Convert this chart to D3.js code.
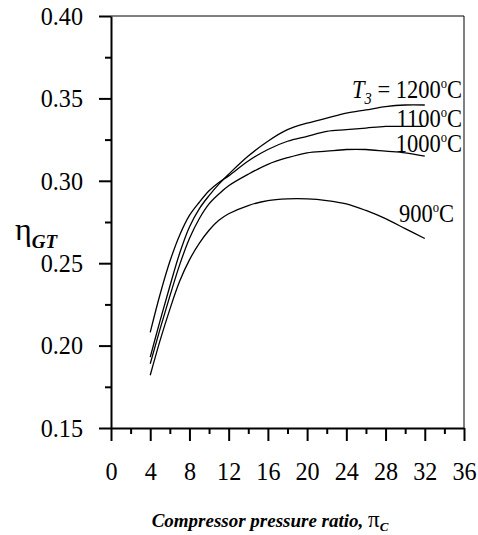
<!DOCTYPE html>
<html>
<head>
<meta charset="utf-8">
<script src="https://cdn.jsdelivr.net/npm/d3@7"></script>
<style>
  body { margin: 0; background: #fff; }
  svg { display: block; }
  text { font-family: "Times New Roman", "Liberation Serif", serif; }
</style>
</head>
<body>
<svg id="chart" width="478" height="535"></svg>
<script>
// values
var pressureRatio = [4, 5, 6, 7, 8, 9, 10, 11, 12, 14, 16, 18, 20, 22, 24, 26, 28, 30, 32];
var eta1200 = [0.193, 0.215, 0.236, 0.256, 0.272, 0.283, 0.291, 0.298, 0.304, 0.315, 0.324, 0.331, 0.335, 0.338, 0.341, 0.343, 0.345, 0.346, 0.346];
var eta1100 = [0.208, 0.231, 0.251, 0.267, 0.279, 0.287, 0.294, 0.299, 0.303, 0.312, 0.319, 0.324, 0.327, 0.330, 0.331, 0.332, 0.333, 0.333, 0.333];
var eta1000 = [0.189, 0.210, 0.230, 0.249, 0.265, 0.277, 0.286, 0.292, 0.297, 0.304, 0.310, 0.314, 0.317, 0.318, 0.319, 0.319, 0.318, 0.317, 0.315];
var eta900  = [0.182, 0.203, 0.222, 0.239, 0.252, 0.262, 0.270, 0.276, 0.280, 0.285, 0.288, 0.289, 0.289, 0.288, 0.286, 0.282, 0.277, 0.271, 0.265];
var seriesNames = ["1200", "1100", "1000", "900"];
var xTicks = [0, 4, 8, 12, 16, 20, 24, 28, 32, 36];
var yTicks = [0.15, 0.20, 0.25, 0.30, 0.35, 0.40];

var svg = d3.select("#chart"),
    margin = {top: 16, right: 14, bottom: 107, left: 111},
    width = +svg.attr("width") - margin.left - margin.right,
    height = +svg.attr("height") - margin.top - margin.bottom,
    group = svg.append("g").attr("transform", "translate(" + margin.left + "," + margin.top + ")");

var xscale = d3.scaleLinear().domain([0, 36]).range([0, width]);
var yscale = d3.scaleLinear().domain([0.15, 0.40]).range([height, 0]);
var squeeze = 0.93;

// thin frame on top and right
group.append("line").attr("x1", 0).attr("x2", width).attr("y1", 0).attr("y2", 0)
    .attr("stroke", "#000").attr("stroke-width", 1);
group.append("line").attr("x1", width).attr("x2", width).attr("y1", 0).attr("y2", height)
    .attr("stroke", "#000").attr("stroke-width", 1);

// minor ticks
group.append("g")
    .attr("transform", "translate(0," + height + ")")
    .call(d3.axisBottom(xscale).tickValues(d3.range(2, 36, 4)).tickSize(6).tickFormat(""))
    .call(function(g) { g.select(".domain").remove(); })
    .selectAll("line").attr("stroke-width", 2);
group.append("g")
    .call(d3.axisLeft(yscale).tickValues([0.175, 0.225, 0.275, 0.325, 0.375]).tickSize(6).tickFormat(""))
    .call(function(g) { g.select(".domain").remove(); })
    .selectAll("line").attr("stroke-width", 2);

// main axes
var xAxis = group.append("g")
    .attr("transform", "translate(0," + height + ")")
    .call(d3.axisBottom(xscale).tickValues(xTicks).tickSize(13).tickSizeOuter(0).tickPadding(21).tickFormat(d3.format("d")));
xAxis.select(".domain").attr("stroke-width", 2);
xAxis.selectAll(".tick line").attr("stroke-width", 2);
xAxis.selectAll("text")
    .attr("font-size", 26).attr("fill", "#000")
    .attr("transform", "scale(" + squeeze + ",1)");

var yAxis = group.append("g")
    .call(d3.axisLeft(yscale).tickValues(yTicks).tickSize(12).tickSizeOuter(0).tickFormat(d3.format(".2f")));
yAxis.select(".domain").attr("stroke-width", 2);
yAxis.selectAll(".tick line").attr("stroke-width", 2);
yAxis.selectAll("text")
    .attr("font-size", 26).attr("fill", "#000")
    .attr("x", -28 / squeeze)
    .attr("transform", "scale(" + squeeze + ",1)");

// curves
var allSeries = [eta1200, eta1100, eta1000, eta900];
var line = d3.line()
    .x(function(d, i) { return xscale(pressureRatio[i]); })
    .y(function(d) { return yscale(d); })
    .curve(d3.curveCatmullRom.alpha(0.5));

group.selectAll(".curve")
    .data(allSeries)
    .enter().append("path")
    .attr("class", "curve")
    .attr("d", line)
    .attr("fill", "none")
    .attr("stroke", "#000")
    .attr("stroke-width", 1.3);

// curve labels
var labelPos = [[462, 98], [462, 127], [462, 152], [454, 222]];
seriesNames.forEach(function(name, i) {
    var t = svg.append("text")
        .attr("transform", "translate(" + labelPos[i][0] + "," + labelPos[i][1] + ") scale(0.9,1)")
        .attr("text-anchor", "end")
        .attr("font-size", 25);
    if (i === 0) {
        t.append("tspan").attr("font-style", "italic").text("T");
        t.append("tspan").attr("font-style", "italic").attr("font-size", 16).attr("dy", 6).text("3");
        t.append("tspan").attr("dy", -6).text(" = " + name);
    } else {
        t.append("tspan").text(name);
    }
    t.append("tspan").attr("font-size", 14).attr("dy", -10).text("o");
    t.append("tspan").attr("dy", 10).text("C");
});

// axis titles
var yt = svg.append("text").attr("x", 15).attr("y", 240).attr("font-size", 32);
yt.append("tspan").text("η");
yt.append("tspan").attr("font-size", 19).attr("font-weight", "bold").attr("font-style", "italic")
    .attr("dy", 8).text("GT");

var xt = svg.append("text")
    .attr("x", 270).attr("y", 527)
    .attr("text-anchor", "middle")
    .attr("font-size", 19).attr("font-weight", "bold").attr("font-style", "italic");
xt.append("tspan").text("Compressor pressure ratio, ");
xt.append("tspan").attr("font-style", "normal").attr("font-weight", "normal").attr("font-size", 23).text("π");
xt.append("tspan").attr("font-size", 13).attr("dy", 4).text("C");
</script>
</body>
</html>
